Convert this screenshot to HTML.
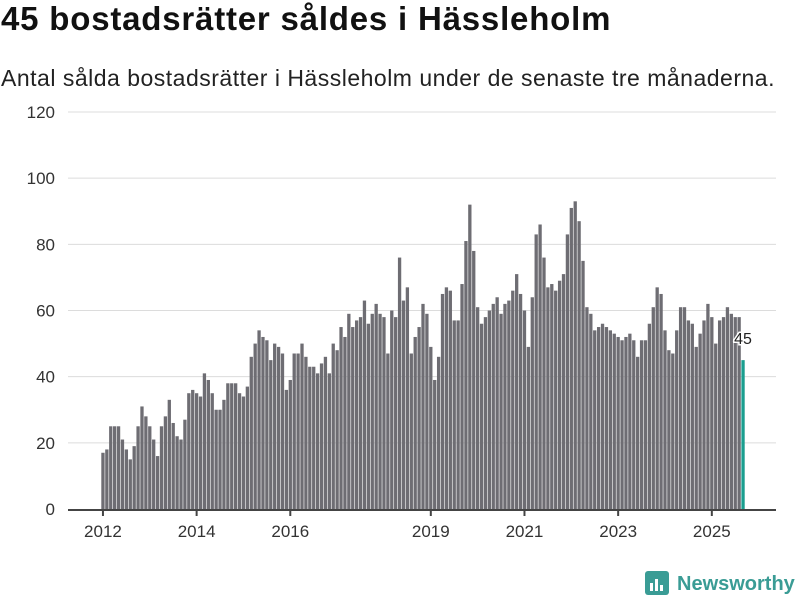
<!DOCTYPE html>
<html><head><meta charset="utf-8"><style>
body{margin:0;width:800px;height:600px;background:#fff;font-family:"Liberation Sans","DejaVu Sans",sans-serif;overflow:hidden}
#title{position:absolute;left:1px;top:0px;font-size:33px;font-weight:bold;color:#111;margin:0;letter-spacing:0.8px}
#sub{position:absolute;left:1px;top:65px;font-size:23px;color:#222;letter-spacing:0.5px}
svg{position:absolute;left:0;top:0}
</style></head><body>
<h1 id="title">45 bostadsrätter såldes i Hässleholm</h1>
<div id="sub">Antal sålda bostadsrätter i Hässleholm under de senaste tre månaderna.</div>
<svg id="chart" width="800" height="600"></svg>
<script>
const values=[17,18,25,25,25,21,18,15,19,25,31,28,25,21,16,25,28,33,26,22,21,27,35,36,35,34,41,39,35,30,30,33,38,38,38,35,34,37,46,50,54,52,51,45,50,49,47,36,39,47,47,50,46,43,43,41,44,46,41,50,48,55,52,59,55,57,58,63,56,59,62,59,58,47,60,58,76,63,67,47,52,55,62,59,49,39,46,65,67,66,57,57,68,81,92,78,61,56,58,60,62,64,59,62,63,66,71,65,60,49,64,83,86,76,67,68,66,69,71,83,91,93,87,75,61,59,54,55,56,55,54,53,52,51,52,53,51,46,51,51,56,61,67,65,54,48,47,54,61,61,57,56,49,53,57,62,58,50,57,58,61,59,58,58,45];
const yTicks=[0,20,40,60,80,100,120];
const xTickYears=[2012,2014,2016,2019,2021,2023,2025];
const startYear=2012;
const NS="http://www.w3.org/2000/svg";
const svg=document.getElementById('chart');
const x0=101,x1=745,y0=509,y1=112;
const bw=(x1-x0)/values.length;
const xs=i=>x0+i*bw;
const ys=v=>y0-(v/120)*(y0-y1);
function mk(t,a){const e=document.createElementNS(NS,t);for(const k in a)e.setAttribute(k,a[k]);svg.appendChild(e);return e;}
yTicks.forEach(t=>{
  if(t>0){const g=mk('line',{x1:68,x2:776,y1:ys(t),y2:ys(t),stroke:'#dcdcdc','stroke-width':1});
  
  }
  const l=mk('text',{x:55,y:ys(t)+6,'text-anchor':'end','font-size':17,fill:'#333'});
  l.textContent=t;
  
  
});
values.forEach((v,i)=>{
  const last=i===values.length-1;
  const r=mk('rect',{x:xs(i)+0.3,y:ys(v),width:bw-0.6,height:y0-ys(v),fill:last?'#1a9e8f':'#6e6d73'});
  
  
});
const ax=mk('line',{x1:68,x2:776,y1:y0+1,y2:y0+1,stroke:'#444','stroke-width':2});


xTickYears.forEach(yr=>{
  const i=(yr-startYear)*12;
  const cx=xs(i)+bw/2;
  const tk=mk('line',{x1:cx,x2:cx,y1:y0+1,y2:y0+7,stroke:'#444','stroke-width':2});
  
  
  const t=mk('text',{x:cx,y:y0+28,'text-anchor':'middle','font-size':17,fill:'#333'});
  t.textContent=yr;
  
  
});
const li=values.length-1;
const lb=mk('text',{x:xs(li)+bw/2,y:ys(values[li])-16,'text-anchor':'middle','font-size':16,fill:'#222',stroke:'#fff','stroke-width':3,'paint-order':'stroke'});
lb.textContent=values[li];


</script>
<svg width="800" height="600" style="pointer-events:none">
<rect x="645" y="571" width="24" height="24" rx="3" fill="#3a9c95"/>
<rect x="650" y="583" width="3" height="8" fill="#fff"/><rect x="655" y="579" width="3" height="12" fill="#fff"/><rect x="660" y="585" width="3" height="6" fill="#fff"/>
<text x="677" y="590" font-size="20" font-weight="bold" fill="#3a9c95" font-family="Liberation Sans,sans-serif">Newsworthy</text>
</svg>
</body></html>
